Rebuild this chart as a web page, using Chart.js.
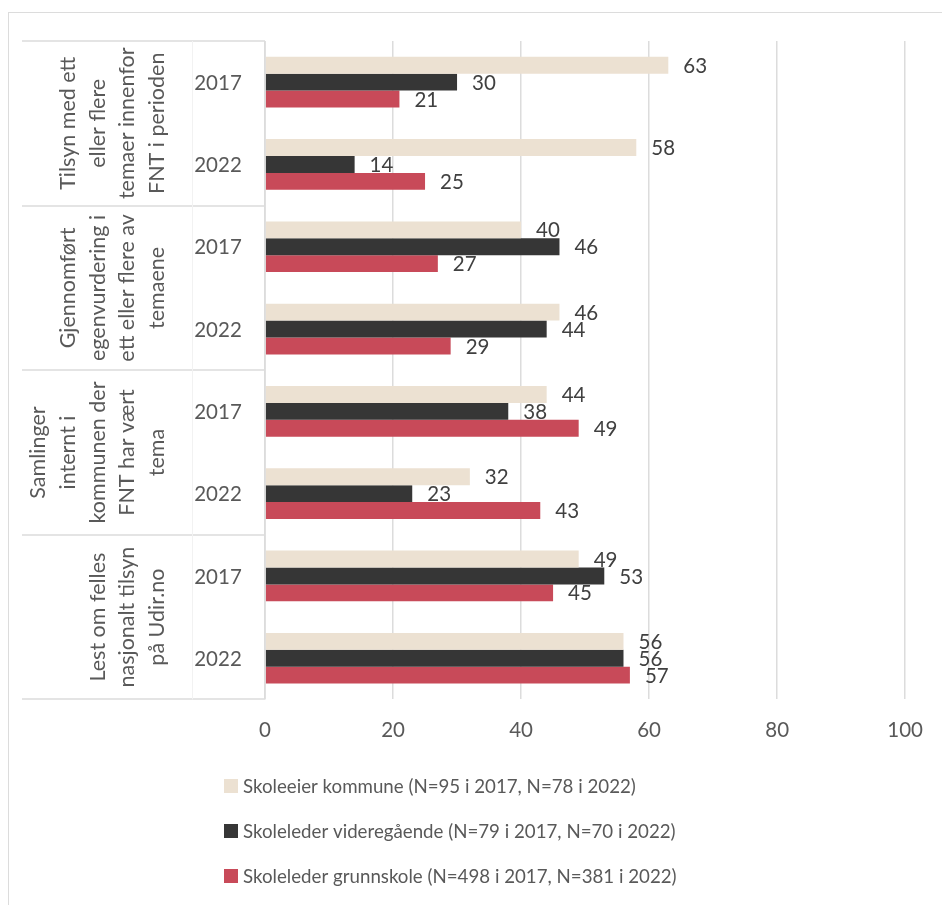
<!DOCTYPE html>
<html>
<head>
<meta charset="utf-8">
<script src="https://cdn.jsdelivr.net/npm/chart.js@4.4.1/dist/chart.umd.min.js"></script>
<style>
	html, body { margin: 0; padding: 0; background: #fff; }
	#wrap { position: relative; width: 942px; height: 905px; }
</style>
</head>
<body>
<div id="wrap"><canvas id="chart"></canvas></div>
<script>
// two survey rounds per topic, topics listed top to bottom
const years = ['2017', '2022'];
const topics = [
	['Tilsyn med ett', 'eller flere', 'temaer innenfor', 'FNT i perioden'],
	['Gjennomført', 'egenvurdering i', 'ett eller flere av', 'temaene'],
	['Samlinger', 'internt i', 'kommunen der', 'FNT har vært', 'tema'],
	['Lest om felles', 'nasjonalt tilsyn', 'på Udir.no'],
];

const seriesNames = [
	'Skoleeier kommune (N=95 i 2017, N=78 i 2022)',
	'Skoleleder videregående (N=79 i 2017, N=70 i 2022)',
	'Skoleleder grunnskole (N=498 i 2017, N=381 i 2022)',
];
const skoleeierKommune = [63, 58, 40, 46, 44, 32, 49, 56];
const skolelederVgs = [30, 14, 46, 44, 38, 23, 53, 56];
const skolelederGrunnskole = [21, 25, 27, 29, 49, 43, 45, 57];
const xTicks = [0, 20, 40, 60, 80, 100];

const colors = ['#ece1d2', '#363636', '#c84a59'];
const FONT = 'Lato, "Open Sans", sans-serif';
const TEXT = '#595959';
const LINE = '#dcdcdc';

const labels = topics.flatMap(() => years);

// light frame round the whole figure
const frame = {
	id: 'frame',
	beforeDraw(chart) {
		const { ctx } = chart;
		ctx.save();
		ctx.fillStyle = '#fff';
		ctx.fillRect(0, 0, chart.width, chart.height);
		ctx.strokeStyle = LINE;
		ctx.lineWidth = 1;
		ctx.strokeRect(8.5, 12.5, chart.width + 20, chart.height + 20);
		ctx.restore();
	},
};

// two-level category axis: rotated topic text, then the year, in a ruled table
const categoryTable = {
	id: 'categoryTable',
	afterDraw(chart) {
		const { ctx, chartArea } = chart;
		const y = chart.scales.y;
		const step = y.getPixelForValue(1) - y.getPixelForValue(0);
		const tableLeft = 22, yearX = 218, lastLineX = 157, lineGap = 29.7;
		ctx.save();
		ctx.strokeStyle = LINE;
		ctx.lineWidth = 1.5;
		ctx.beginPath();
		for (let g = 0; g <= topics.length; g++) {
			const py = Math.round(y.getPixelForValue(g * years.length) - step / 2);
			ctx.moveTo(tableLeft, py);
			ctx.lineTo(chartArea.left, py);
		}
		ctx.moveTo(chartArea.left, chartArea.top);
		ctx.lineTo(chartArea.left, chartArea.bottom);
		ctx.stroke();
		ctx.strokeStyle = '#f2f2f2';
		ctx.lineWidth = 1;
		ctx.beginPath();
		ctx.moveTo(192.5, chartArea.top);
		ctx.lineTo(192.5, chartArea.bottom);
		ctx.stroke();

		ctx.fillStyle = TEXT;
		ctx.textAlign = 'center';
		ctx.textBaseline = 'middle';
		ctx.font = `20.5px ${FONT}`;
		labels.forEach((year, i) => ctx.fillText(year, yearX, y.getPixelForValue(i) + 1));

		ctx.font = `21.5px ${FONT}`;
		topics.forEach((lines, g) => {
			const cy = (y.getPixelForValue(g * years.length) + y.getPixelForValue(g * years.length + years.length - 1)) / 2;
			lines.forEach((line, k) => {
				const lx = lastLineX - (lines.length - 1 - k) * lineGap;
				ctx.save();
				ctx.translate(lx, cy);
				ctx.rotate(-Math.PI / 2);
				ctx.fillText(line, 0, 0);
				ctx.restore();
			});
		});
		ctx.restore();
	},
};

// value printed just past the end of every bar
const barValues = {
	id: 'barValues',
	afterDatasetsDraw(chart) {
		const { ctx } = chart;
		ctx.save();
		ctx.fillStyle = '#404040';
		ctx.font = `20.5px ${FONT}`;
		ctx.textAlign = 'left';
		ctx.textBaseline = 'middle';
		chart.data.datasets.forEach((ds, i) => {
			chart.getDatasetMeta(i).data.forEach((bar, j) => {
				ctx.fillText(String(ds.data[j]), bar.x + 15, bar.y + 1);
			});
		});
		ctx.restore();
	},
};

// one legend entry per row, left aligned under the plot
const stackedLegend = {
	id: 'stackedLegend',
	afterDraw(chart) {
		const { ctx } = chart;
		const left = 224, top = 786, rowGap = 45, box = 14;
		ctx.save();
		ctx.font = `18.7px ${FONT}`;
		ctx.textAlign = 'left';
		ctx.textBaseline = 'middle';
		chart.data.datasets.forEach((ds, i) => {
			const cy = top + i * rowGap;
			ctx.fillStyle = ds.backgroundColor;
			ctx.fillRect(left, cy - box / 2, box, box);
			ctx.fillStyle = TEXT;
			ctx.fillText(ds.label, left + 19, cy + 1);
		});
		ctx.restore();
	},
};

new Chart(document.getElementById('chart'), {
	type: 'bar',
	data: {
		labels,
		datasets: [skoleeierKommune, skolelederVgs, skolelederGrunnskole].map((data, i) => ({
			label: seriesNames[i],
			data,
			backgroundColor: colors[i],
			categoryPercentage: 0.616,
			barPercentage: 1,
		})),
	},
	options: {
		indexAxis: 'y',
		responsive: true,
		maintainAspectRatio: false,
		animation: false,
		layout: { padding: { left: 265, top: 41, right: 35, bottom: 143 } },
		scales: {
			x: {
				min: xTicks[0],
				max: xTicks[xTicks.length - 1],
				afterBuildTicks: (scale) => { scale.ticks = xTicks.map(value => ({ value })); },
				ticks: { color: TEXT, font: { family: FONT, size: 20.5 }, padding: 19 },
				grid: { color: LINE, lineWidth: 1.5, drawTicks: false },
				border: { display: false },
			},
			y: { display: false },
		},
		plugins: {
			legend: { display: false },
			tooltip: { enabled: false },
		},
	},
	plugins: [frame, categoryTable, barValues, stackedLegend],
});
</script>
</body>
</html>
